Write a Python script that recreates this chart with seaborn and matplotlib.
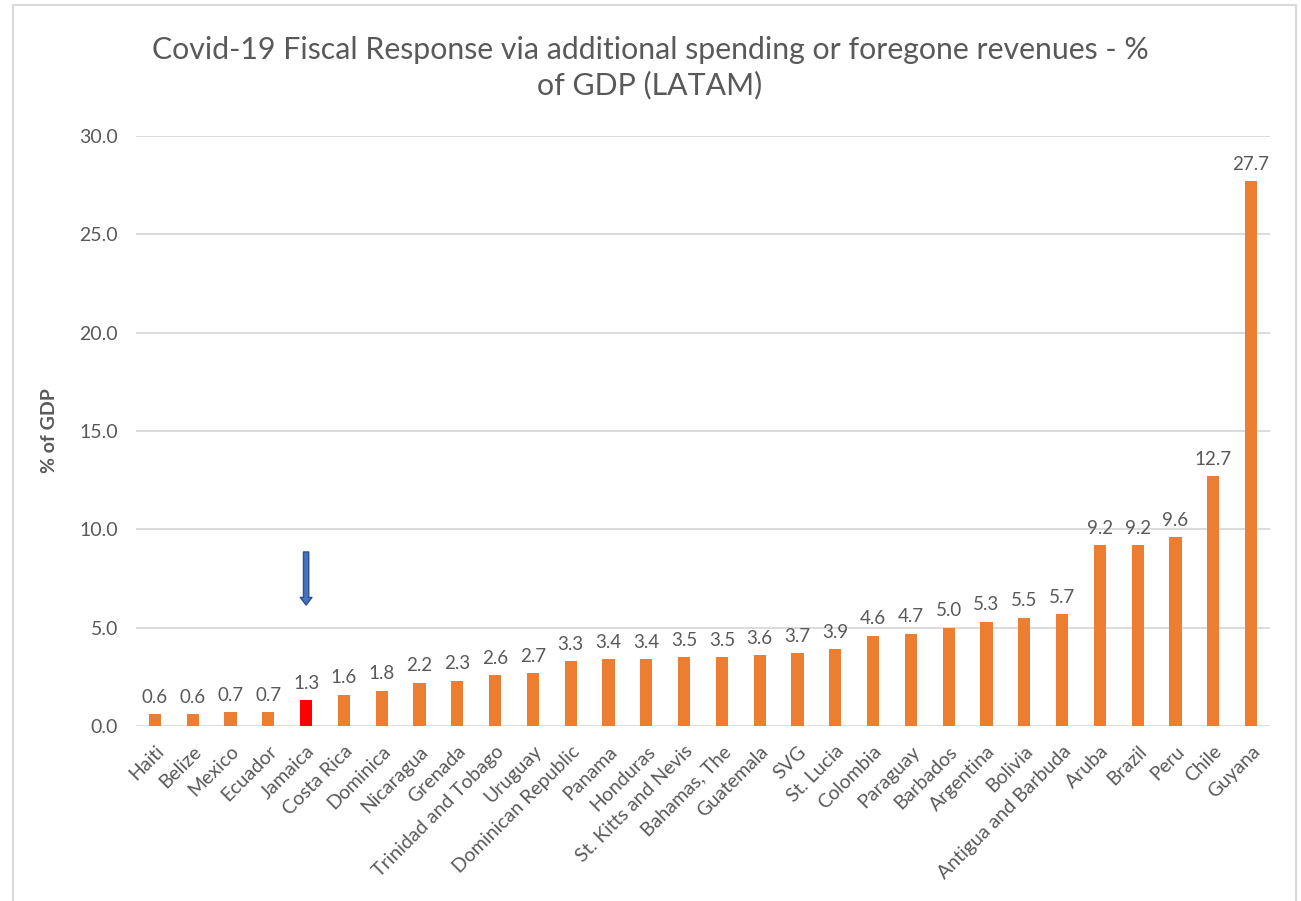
import matplotlib
matplotlib.use("Agg")
import matplotlib.pyplot as plt
import seaborn as sns
from matplotlib.patches import Rectangle

countries = [
    "Haiti", "Belize", "Mexico", "Ecuador", "Jamaica", "Costa Rica", "Dominica",
    "Nicaragua", "Grenada", "Trinidad and Tobago", "Uruguay", "Dominican Republic",
    "Panama", "Honduras", "St. Kitts and Nevis", "Bahamas, The", "Guatemala", "SVG",
    "St. Lucia", "Colombia", "Paraguay", "Barbados", "Argentina", "Bolivia",
    "Antigua and Barbuda", "Aruba", "Brazil", "Peru", "Chile", "Guyana",
]
fiscal_pct_gdp = [
    0.6, 0.6, 0.7, 0.7, 1.3, 1.6, 1.8, 2.2, 2.3, 2.6, 2.7, 3.3, 3.4, 3.4, 3.5,
    3.5, 3.6, 3.7, 3.9, 4.6, 4.7, 5.0, 5.3, 5.5, 5.7, 9.2, 9.2, 9.6, 12.7, 27.7,
]
highlight = "Jamaica"
y_ticks = [0, 5, 10, 15, 20, 25, 30]

ORANGE = "#ED7D31"
RED = "#FF0000"
GREY_TXT = "#595959"
GRID = "#D9D9D9"

sns.set_style("white")
plt.rcParams["font.family"] = ["Lato", "DejaVu Sans"]

fig = plt.figure(figsize=(13.01, 9.01), dpi=100)
ax = fig.add_axes([136 / 1301, 1 - 726 / 901, 1134 / 1301, 590 / 901])

palette = {c: (RED if c == highlight else ORANGE) for c in countries}
sns.barplot(x=countries, y=fiscal_pct_gdp, hue=countries, palette=palette,
            legend=False, width=0.32, saturation=1, ax=ax, edgecolor="none")

for cont in ax.containers:
    ax.bar_label(cont, fmt="%.1f", padding=6, fontsize=13.5, color=GREY_TXT)

ax.set_ylim(0, 30)
ax.set_xlim(-0.5, len(countries) - 0.5)
ax.set_yticks(y_ticks)
ax.set_yticklabels([f"{v:.1f}" for v in y_ticks])
ax.yaxis.grid(True, color=GRID, linewidth=1.3)
ax.set_axisbelow(True)
for s in ax.spines.values():
    s.set_visible(False)
ax.tick_params(axis="y", length=0, labelsize=14, labelcolor=GREY_TXT, pad=13)
ax.tick_params(axis="x", length=0, labelsize=14, labelcolor=GREY_TXT, pad=12)
plt.setp(ax.get_xticklabels(), rotation=45, ha="right", rotation_mode="anchor")
ax.set_xlabel("")
ax.set_ylabel("% of GDP", fontsize=14, fontweight="bold", color=GREY_TXT)
ax.yaxis.set_label_coords(-(136 - 58) / 1134, 0.5)

# arrow pointing at the highlighted country
hi = countries.index(highlight)
ax.annotate("", xy=(hi, 6.15), xytext=(hi, 8.85),
            arrowprops=dict(arrowstyle="simple,head_length=0.55,head_width=0.85,tail_width=0.38",
                            fc="#4472C4", ec="#2F528F", lw=1.0, shrinkA=0, shrinkB=0))

fig.text(650 / 1301, 1 - 68 / 901,
         "Covid-19 Fiscal Response via additional spending or foregone revenues - %\nof GDP (LATAM)",
         ha="center", va="center", fontsize=21.8, color=GREY_TXT, linespacing=1.3)

fig.patches.append(Rectangle((13 / 1301, -0.05), (1296 - 13) / 1301, 1.05 - 5 / 901,
                             transform=fig.transFigure, fill=False, ec=GRID, lw=1.5))

fig.savefig("out.png", dpi=100)
